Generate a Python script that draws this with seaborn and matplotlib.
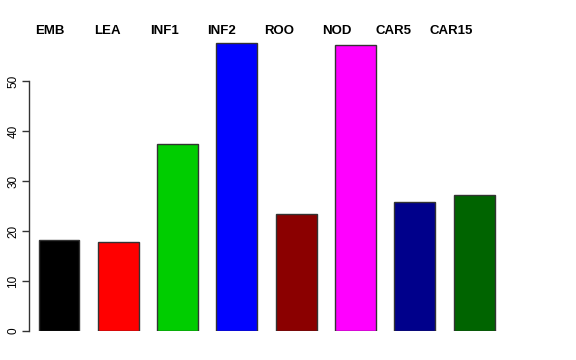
import matplotlib
matplotlib.use("Agg")
import matplotlib.pyplot as plt
import seaborn as sns
import pandas as pd

tissues = ["EMB", "LEA", "INF1", "INF2", "ROO", "NOD", "CAR5", "CAR15"]
values = [18.3, 17.8, 37.4, 57.7, 23.5, 57.3, 25.9, 27.3]
colors = ["#000000", "#FF0000", "#00CD00", "#0000FF",
          "#8B0000", "#FF00FF", "#00008B", "#006400"]
yticks = [0, 10, 20, 30, 40, 50]

sns.set_style("white")
plt.rcParams["font.family"] = ["Liberation Sans", "DejaVu Sans"]
plt.rcParams["text.color"] = "black"
plt.rcParams["ytick.color"] = "black"

df = pd.DataFrame({"tissue": tissues, "value": values})

fig = plt.figure(figsize=(5.76, 3.6), dpi=100)
ax = fig.add_axes([29 / 576, 29 / 360, 511 / 576, 295 / 360])

sns.barplot(data=df, x="tissue", y="value", hue="tissue", order=tissues,
            palette=colors, width=0.69, edgecolor="#333333", linewidth=1,
            legend=False, ax=ax, saturation=1)

ax.set_xlim(-0.506, 8.11)
ax.set_ylim(0, 59)
ax.set_xlabel("")
ax.set_ylabel("")
ax.set_xticks([])

for s in ["top", "right", "bottom"]:
    ax.spines[s].set_visible(False)
ax.spines["left"].set_bounds(0, 50)
ax.spines["left"].set_color("#333333")
ax.spines["left"].set_linewidth(1)
ax.set_yticks(yticks)
ax.set_yticklabels([str(t) for t in yticks], rotation=90, va="center",
                   fontsize=8.5, color="black")
ax.tick_params(axis="y", left=True, length=5, width=1, color="#333333", pad=2)

# tissue names along the top, slightly left of the bars
for i, name in enumerate(tissues):
    ax.text(i * 0.966 - 0.15, 59.9, name, ha="center", va="center",
            fontsize=9.5, fontweight="bold", color="black", clip_on=False)

fig.savefig("out.png", dpi=100)
